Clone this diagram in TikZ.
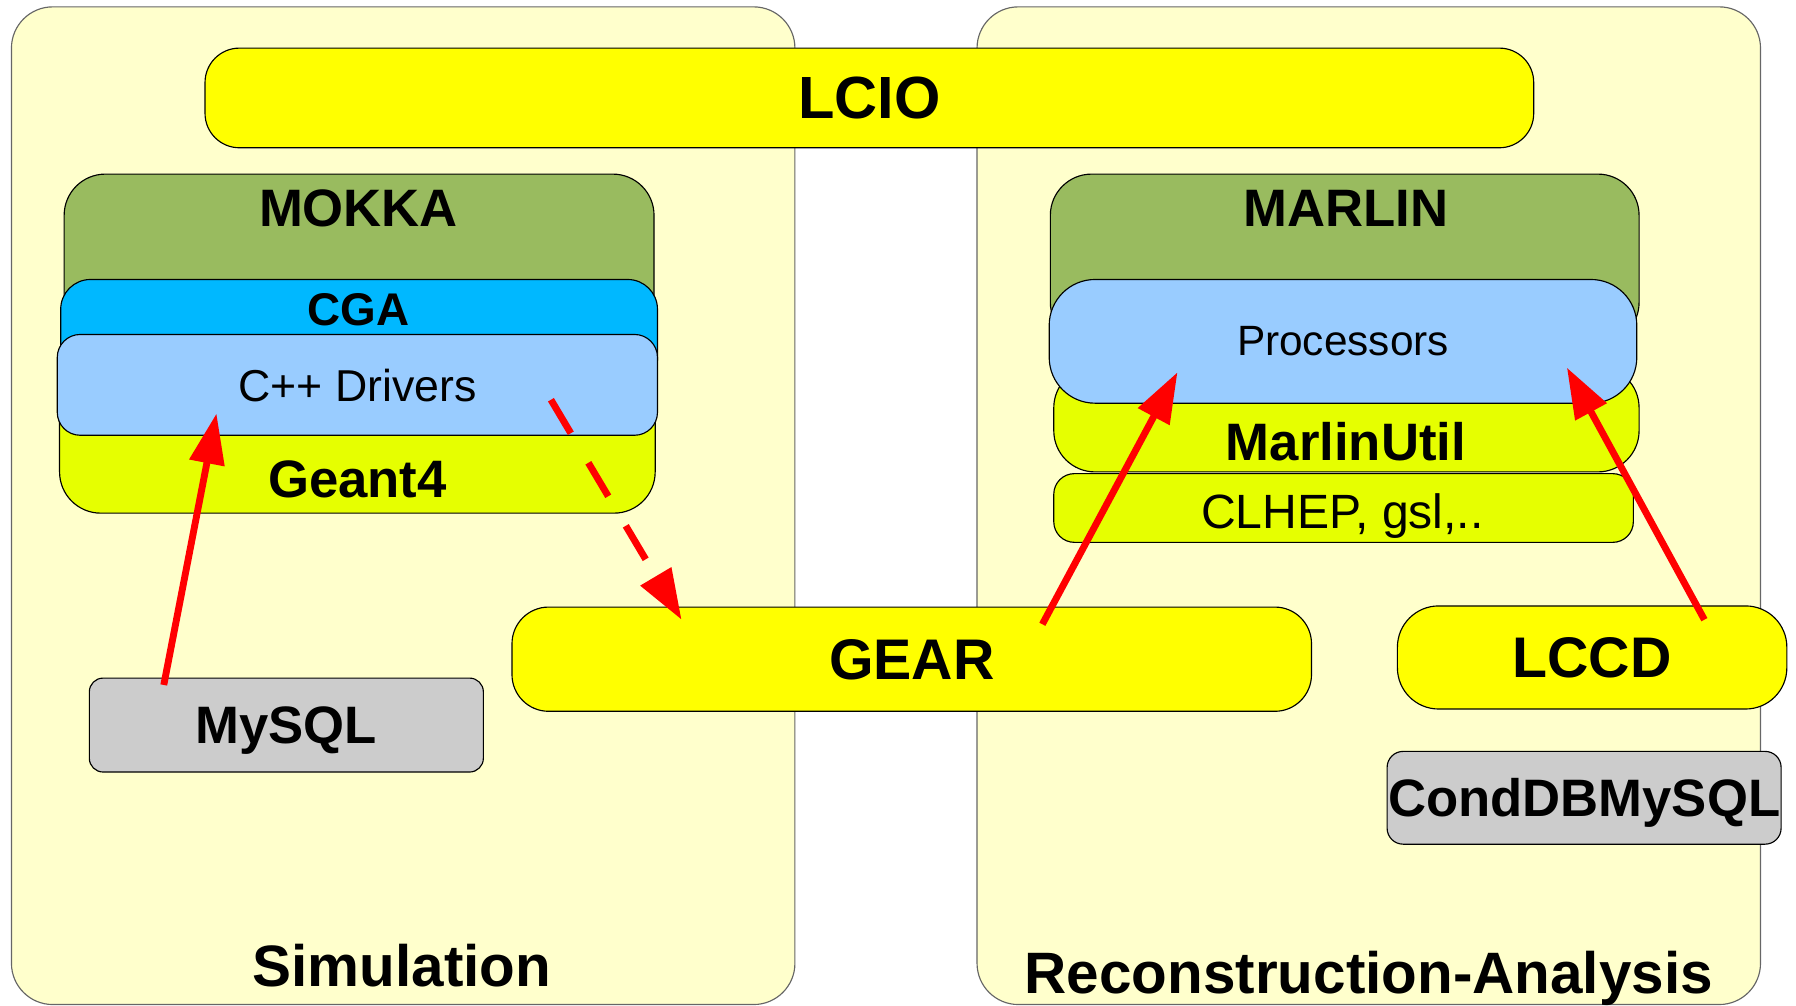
\documentclass[tikz,border=0pt]{standalone}
\usepackage{fontspec}
\setmainfont{Liberation Sans}
\usetikzlibrary{arrows.meta}

\definecolor{panelfill}{RGB}{255,255,204}
\definecolor{lcioyellow}{RGB}{255,255,0}
\definecolor{mokkagreen}{RGB}{153,187,95}
\definecolor{cgablue}{RGB}{0,184,255}
\definecolor{drvblue}{RGB}{153,204,255}
\definecolor{limeyellow}{RGB}{230,255,0}
\definecolor{dbgray}{RGB}{204,204,204}
\definecolor{arrowred}{RGB}{255,0,0}

\tikzset{every picture/.style={line width=0.5pt}}
\tikzset{
  panel/.style={draw=black!60, fill=panelfill, rounded corners=18pt, inner sep=0pt},
  box/.style={draw=black, inner sep=0pt, align=center, text depth=0pt},
  ttl/.style={inner sep=0pt, text depth=0pt, font=\bfseries\fontsize{23}{23}\selectfont},
  redarrow/.style={draw=arrowred, line width=3pt, -{Triangle[length=22pt,width=15pt]}}
}

\begin{document}
\begin{tikzpicture}[x=0.5pt,y=0.5pt,yscale=-1,xscale=1]
\useasboundingbox (0,0) rectangle (1568,878);

%Panels
\node [panel, minimum width=342pt, minimum height=435.5pt] (simpanel) at (352,441.5) {};
\node [panel, minimum width=342pt, minimum height=435.5pt] (recopanel) at (1195,441.5) {};

%LCIO
\node [box, fill=lcioyellow, minimum width=580pt, minimum height=43.5pt, rounded corners=15pt, font=\bfseries\fontsize{26}{26}\selectfont] (lcio) at (759,85.5) {LCIO};

%Simulation stack
\node [box, fill=mokkagreen, minimum width=257.5pt, minimum height=74pt, rounded corners=18pt] (mokka) at (313.5,226) {};
\node [box, fill=limeyellow, minimum width=260pt, minimum height=64pt, rounded corners=18pt] (geant) at (312,384) {};
\node [box, fill=cgablue, minimum width=260.5pt, minimum height=48pt, rounded corners=13pt] (cga) at (313.5,292) {};
\node [box, fill=drvblue, minimum width=262pt, minimum height=44pt, rounded corners=10pt, font=\fontsize{19.5}{19.5}\selectfont] (drivers) at (312,336) {C++ Drivers};
\node [ttl] (mokkatxt) at (313,182) {MOKKA};
\node [ttl, font=\bfseries\fontsize{20}{20}\selectfont] (cgatxt) at (313,270) {CGA};
\node [ttl] (geanttxt) at (312,418) {Geant4};

\node [box, fill=dbgray, minimum width=172pt, minimum height=41pt, rounded corners=6pt, font=\bfseries\fontsize{23}{23}\selectfont] (mysql) at (250,633) {MySQL};

%GEAR
\node [box, fill=lcioyellow, minimum width=349pt, minimum height=45.5pt, rounded corners=16pt, font=\bfseries\fontsize{25}{25}\selectfont] (gear) at (796,575.5) {GEAR};

%Reconstruction stack
\node [box, fill=mokkagreen, minimum width=257pt, minimum height=74pt, rounded corners=18pt] (marlin) at (1174,226) {};
\node [box, fill=limeyellow, minimum width=255.5pt, minimum height=46pt, rounded corners=18pt] (marlinutil) at (1175.5,366) {};
\node [box, fill=drvblue, minimum width=256.5pt, minimum height=54pt, rounded corners=20pt, font=\fontsize{18.5}{18.5}\selectfont] (proc) at (1172.5,298) {Processors};
\node [box, fill=limeyellow, minimum width=253pt, minimum height=30pt, rounded corners=9pt] (clhep) at (1173,443.5) {};
\node [ttl] (marlintxt) at (1175,182) {MARLIN};
\node [ttl] (utiltxt) at (1175,385) {MarlinUtil};
\node [ttl, font=\fontsize{21}{21}\selectfont] (clheptxt) at (1172,446.5) {CLHEP, gsl,..};

\node [box, fill=lcioyellow, minimum width=170pt, minimum height=45pt, rounded corners=18pt, font=\bfseries\fontsize{25}{25}\selectfont] (lccd) at (1390,574) {LCCD};
\node [box, fill=dbgray, minimum width=172pt, minimum height=40.5pt, rounded corners=7pt, font=\bfseries\fontsize{23}{23}\selectfont] (conddb) at (1383,696.5) {CondDBMySQL};

%Panel titles
\node [ttl, font=\bfseries\fontsize{25.5}{25.5}\selectfont] (simtxt) at (351,843) {Simulation};
\node [ttl, anchor=base, font=\bfseries\fontsize{25.5}{25.5}\selectfont] (recotxt) at (1195,867) {Reconstruction-Analysis};

%Arrow ends
\coordinate (mysqlout) at (143,598);
\coordinate (drvin) at (189,361);
\coordinate (drvout) at (481,349);
\coordinate (gearin) at (595,541);
\coordinate (gearout) at (910,545);
\coordinate (procinl) at (1028,325);
\coordinate (lccdout) at (1488,541);
\coordinate (procinr) at (1368,321);

%Arrows
\draw [redarrow] (mysqlout) -- (drvin);
\draw [redarrow, dash pattern=on 17pt off 15pt] (drvout) -- (gearin);
\draw [redarrow] (gearout) -- (procinl);
\draw [redarrow] (lccdout) -- (procinr);

\end{tikzpicture}
\end{document}
